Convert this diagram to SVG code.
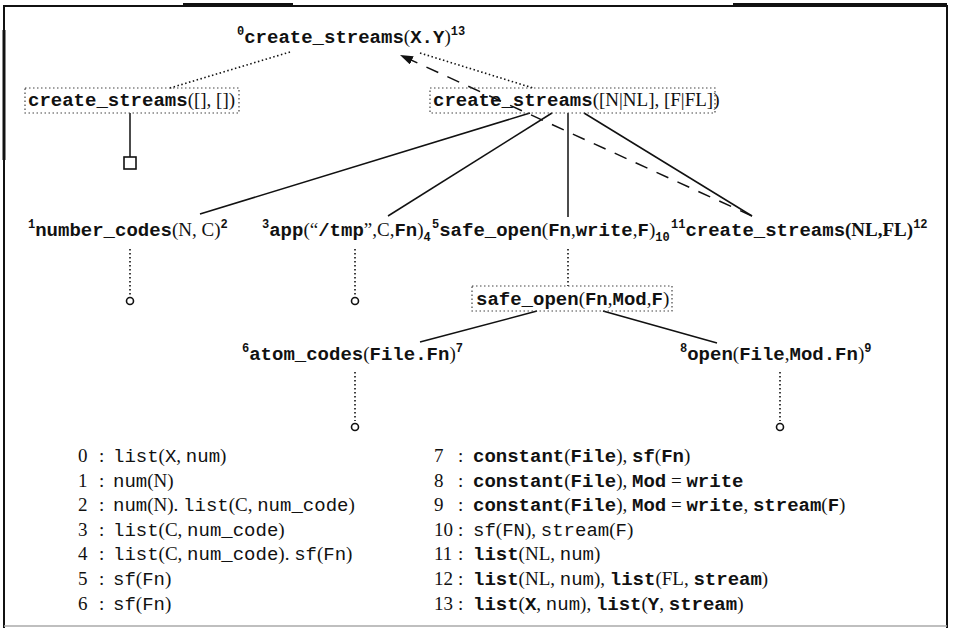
<svg xmlns="http://www.w3.org/2000/svg" width="953" height="628" viewBox="0 0 953 628">
<style>
text{font-family:"Liberation Mono",monospace;font-weight:bold;font-size:19px;fill:#111}
.r{font-family:"Liberation Serif",serif;font-weight:normal}
.rb{font-family:"Liberation Serif",serif;font-weight:bold}
.n{font-weight:normal}
.s{font-size:12px}
.box{fill:none;stroke:#444;stroke-width:1.2;stroke-dasharray:1.5 2.5}
.sol{fill:none;stroke:#111;stroke-width:1.5}
.dot{fill:none;stroke:#111;stroke-width:1.6;stroke-dasharray:1.5 2.5}
.dash{fill:none;stroke:#111;stroke-width:1.5;stroke-dasharray:13 10}
.leaf{fill:#fff;stroke:#111;stroke-width:1.6}
.tab text{font-weight:normal}
.tab .b{font-weight:bold}
</style>
<defs>
<marker id="ah" viewBox="0 0 13 9" refX="13" refY="4.5" markerWidth="13" markerHeight="9" orient="auto" markerUnits="userSpaceOnUse"><path d="M0,0 L13,4.5 L0,9 z" fill="#111"/></marker>
</defs>
<rect width="953" height="628" fill="#fff"/>
<g id="frame" fill="none" stroke="#111">
<path d="M4,628 V6 H947 V628" stroke-width="2"/>
<line x1="4" y1="30" x2="4" y2="160" stroke-width="3"/>
<line x1="183" y1="4.5" x2="293" y2="4.5" stroke-width="3"/>
<line x1="733" y1="4.5" x2="947" y2="4.5" stroke-width="3"/>
<line x1="4" y1="626" x2="947" y2="626" stroke="#aaa" stroke-width="1.5"/>
</g>
<g id="connectors">
<line class="dot" x1="290" y1="52" x2="170" y2="88"/>
<line class="dot" x1="420" y1="53" x2="533" y2="88"/>
<line class="dash" x1="752" y1="216" x2="400" y2="55" marker-end="url(#ah)"/>
<line class="sol" x1="130" y1="113" x2="130" y2="157"/>
<line class="sol" x1="530" y1="113" x2="200" y2="214"/>
<line class="sol" x1="552" y1="113" x2="388" y2="216"/>
<line class="sol" x1="568" y1="113" x2="568" y2="217"/>
<line class="sol" x1="584" y1="113" x2="752" y2="216"/>
<line class="dot" x1="130" y1="249" x2="130" y2="296"/>
<line class="dot" x1="355" y1="249" x2="355" y2="296"/>
<line class="dot" x1="568" y1="249" x2="568" y2="286"/>
<line class="sol" x1="537" y1="311" x2="420" y2="342"/>
<line class="sol" x1="603" y1="311" x2="717" y2="343"/>
<line class="dot" x1="355" y1="372" x2="355" y2="421"/>
<line class="dot" x1="780" y1="372" x2="780" y2="421"/>
</g>
<g id="n0"><text x="237" y="43"><tspan class="s" dy="-8">0</tspan><tspan dy="8">create_streams</tspan><tspan class="r">(</tspan>X.Y<tspan class="r">)</tspan><tspan class="s" dy="-8">13</tspan></text></g>
<g id="nLeft"><rect class="box" x="25" y="88" width="214" height="25"/><text x="28" y="106">create_streams<tspan class="r">([], [])</tspan></text></g>
<g id="nRight"><rect class="box" x="430" y="88" width="285" height="25"/><text x="433" y="106">create_streams<tspan class="r">([N|NL], [F|FL])</tspan></text></g>
<g id="leafSquare"><rect class="leaf" x="124" y="157" width="12" height="12"/></g>
<g id="n1"><text x="28" y="236"><tspan class="s" dy="-8">1</tspan><tspan dy="8">number_codes</tspan><tspan class="r">(N, C)</tspan><tspan class="s" dy="-8">2</tspan></text></g>
<g id="n3"><text x="262" y="236"><tspan class="s" dy="-8">3</tspan><tspan dy="8">app</tspan><tspan class="r">(“</tspan>/tmp<tspan class="r">”,C,</tspan>Fn<tspan class="r">)</tspan><tspan class="s" dy="5">4</tspan></text></g>
<g id="n5"><text x="432" y="236"><tspan class="s" dy="-8">5</tspan><tspan dy="8">safe_open</tspan><tspan class="r">(</tspan>Fn<tspan class="r">,</tspan>write<tspan class="r">,</tspan>F<tspan class="r">)</tspan><tspan class="s" dy="5">10</tspan></text></g>
<g id="n11"><text x="671" y="236"><tspan class="s" dy="-8">11</tspan><tspan dy="8">create_streams</tspan><tspan class="rb">(NL,FL)</tspan><tspan class="s" dy="-8">12</tspan></text></g>
<g id="leafCircles1"><circle class="leaf" cx="130" cy="301" r="3.5"/><circle class="leaf" cx="355" cy="301" r="3.5"/></g>
<g id="nSafe"><rect class="box" x="472" y="286" width="200" height="25"/><text x="476" y="305">safe_open<tspan class="r">(</tspan>Fn<tspan class="r">,</tspan>Mod<tspan class="r">,</tspan>F<tspan class="r">)</tspan></text></g>
<g id="n6"><text x="242" y="360"><tspan class="s" dy="-8">6</tspan><tspan dy="8">atom_codes</tspan><tspan class="r">(</tspan>File.Fn<tspan class="r">)</tspan><tspan class="s" dy="-8">7</tspan></text></g>
<g id="n8"><text x="680" y="360"><tspan class="s" dy="-8">8</tspan><tspan dy="8">open</tspan><tspan class="r">(</tspan>File<tspan class="r">,</tspan>Mod.Fn<tspan class="r">)</tspan><tspan class="s" dy="-8">9</tspan></text></g>
<g id="leafCircles2"><circle class="leaf" cx="355" cy="427" r="3.5"/><circle class="leaf" cx="780" cy="427" r="3.5"/></g>
<g id="table" class="tab">
<g class="r">
<text class="r" x="78" y="462">0</text><text class="r" x="78" y="486.6">1</text><text class="r" x="78" y="511.2">2</text><text class="r" x="78" y="535.8">3</text><text class="r" x="78" y="560.4">4</text><text class="r" x="78" y="585">5</text><text class="r" x="78" y="609.6">6</text>
<text class="r" x="99" y="462">:</text><text class="r" x="99" y="486.6">:</text><text class="r" x="99" y="511.2">:</text><text class="r" x="99" y="535.8">:</text><text class="r" x="99" y="560.4">:</text><text class="r" x="99" y="585">:</text><text class="r" x="99" y="609.6">:</text>
<text class="r" x="434" y="462">7</text><text class="r" x="434" y="486.6">8</text><text class="r" x="434" y="511.2">9</text><text class="r" x="434" y="535.8">10</text><text class="r" x="434" y="560.4">11</text><text class="r" x="434" y="585">12</text><text class="r" x="434" y="609.6">13</text>
<text class="r" x="458" y="462">:</text><text class="r" x="458" y="486.6">:</text><text class="r" x="458" y="511.2">:</text><text class="r" x="458" y="535.8">:</text><text class="r" x="458" y="560.4">:</text><text class="r" x="458" y="585">:</text><text class="r" x="458" y="609.6">:</text>
</g>
<text x="113" y="462">list<tspan class="r">(</tspan>X<tspan class="r">, </tspan>num<tspan class="r">)</tspan></text>
<text x="113" y="486.6">num<tspan class="r">(N)</tspan></text>
<text x="113" y="511.2">num<tspan class="r">(N). </tspan>list<tspan class="r">(C, </tspan>num_code<tspan class="r">)</tspan></text>
<text x="113" y="535.8">list<tspan class="r">(C, </tspan>num_code<tspan class="r">)</tspan></text>
<text x="113" y="560.4">list<tspan class="r">(C, </tspan>num_code<tspan class="r">). </tspan>sf<tspan class="r">(</tspan>Fn<tspan class="r">)</tspan></text>
<text x="113" y="585">sf<tspan class="r">(</tspan>Fn<tspan class="r">)</tspan></text>
<text x="113" y="609.6">sf<tspan class="r">(</tspan>Fn<tspan class="r">)</tspan></text>
<text class="b" x="473" y="462">constant<tspan class="r">(</tspan>File<tspan class="r">), </tspan>sf<tspan class="r">(</tspan>Fn<tspan class="r">)</tspan></text>
<text class="b" x="473" y="486.6">constant<tspan class="r">(</tspan>File<tspan class="r">), </tspan>Mod<tspan class="r"> = </tspan>write</text>
<text class="b" x="473" y="511.2">constant<tspan class="r">(</tspan>File<tspan class="r">), </tspan>Mod<tspan class="r"> = </tspan>write<tspan class="r">, </tspan>stream<tspan class="r">(</tspan>F<tspan class="r">)</tspan></text>
<text x="473" y="535.8">sf<tspan class="r">(</tspan>FN<tspan class="r">), </tspan>stream<tspan class="r">(</tspan>F<tspan class="r">)</tspan></text>
<text class="b" x="473" y="560.4">list<tspan class="r">(NL, </tspan><tspan class="n">num</tspan><tspan class="r">)</tspan></text>
<text class="b" x="473" y="585">list<tspan class="r">(NL, </tspan><tspan class="n">num</tspan><tspan class="r">), </tspan>list<tspan class="r">(FL, </tspan>stream<tspan class="r">)</tspan></text>
<text class="b" x="473" y="609.6">list<tspan class="r">(</tspan>X<tspan class="r">, </tspan><tspan class="n">num</tspan><tspan class="r">), </tspan>list<tspan class="r">(</tspan>Y<tspan class="r">, </tspan>stream<tspan class="r">)</tspan></text>
</g>
</svg>
